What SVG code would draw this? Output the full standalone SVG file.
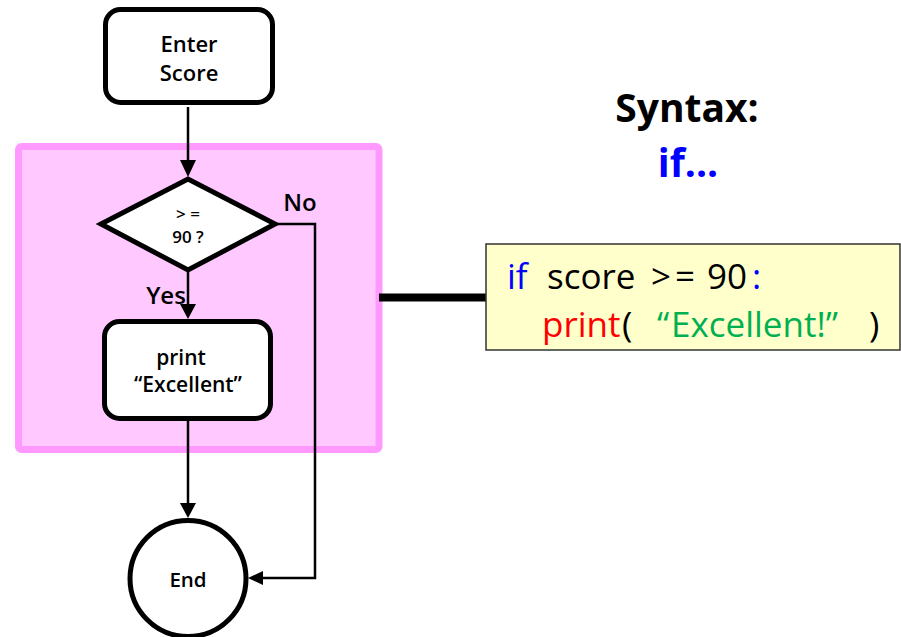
<svg xmlns="http://www.w3.org/2000/svg" width="901" height="637" viewBox="0 0 901 637">
  <defs>
    <style>
      .node { fill: #FFFFFF; stroke: #000000; stroke-width: 5; }
      .lbl { font-family: "Open Sans", "Noto Sans", "DejaVu Sans", sans-serif; fill: #000000; text-anchor: middle; font-weight: 600; }
      .wire { fill: none; stroke: #000000; stroke-width: 2.5; }
      .code { font-family: "Open Sans", "Noto Sans", "DejaVu Sans", sans-serif; font-size: 35px; }
      .head { font-family: "Open Sans", "Noto Sans", "DejaVu Sans", sans-serif; font-weight: 700; font-size: 39px; text-anchor: middle; }
    </style>
  </defs>

  <!-- highlighted if-block region -->
  <g id="if-region">
    <rect x="18.5" y="146.5" width="360.5" height="303" rx="3" fill="#FFC8FF" stroke="#FF99FF" stroke-width="7"/>
  </g>

  <!-- connectors -->
  <g id="connectors">
    <line class="wire" x1="188" y1="107" x2="188" y2="162"/>
    <polygon points="180,160 196,160 188,177"/>
    <line class="wire" x1="188" y1="272" x2="188" y2="306"/>
    <polygon points="180,304 196,304 188,319"/>
    <line class="wire" x1="188" y1="421" x2="188" y2="505"/>
    <polygon points="180,503 196,503 188,518"/>
    <polyline class="wire" points="277,224 315,224 315,578 260,578"/>
    <polygon points="263,571 263,585 248,578"/>
    <line x1="379" y1="297.5" x2="486" y2="297.5" stroke="#000000" stroke-width="8"/>
  </g>

  <g id="node-enter">
    <rect class="node" x="105.5" y="9.5" width="167" height="93" rx="15"/>
    <text class="lbl" font-size="22" x="189" y="52">Enter</text>
    <text class="lbl" font-size="22" x="189" y="81">Score</text>
  </g>

  <g id="node-decision">
    <polygon class="node" points="101,224 188,179 275,224 188,270"/>
    <text class="lbl" font-size="17" font-weight="400" x="188" y="220">&gt; =</text>
    <text class="lbl" font-size="17" font-weight="400" x="188" y="243">90 ?</text>
  </g>

  <g id="label-no">
    <text class="lbl" font-size="24" x="300" y="211">No</text>
  </g>
  <g id="label-yes">
    <text class="lbl" font-size="24" x="166" y="304">Yes</text>
  </g>

  <g id="node-print">
    <rect class="node" x="104.5" y="321.5" width="166" height="97" rx="15"/>
    <text class="lbl" font-size="21" x="181" y="365">print</text>
    <text class="lbl" font-size="21" x="188" y="392">“Excellent”</text>
  </g>

  <g id="node-end">
    <circle class="node" cx="188" cy="578.5" r="58"/>
    <text class="lbl" font-size="20.5" x="188" y="587">End</text>
  </g>

  <!-- title -->
  <g id="title">
    <text class="head" x="687" y="122" fill="#000000">Syntax:</text>
    <text class="head" x="688" y="177" fill="#0000FF">if...</text>
  </g>

  <!-- code sample -->
  <g id="code-box">
    <rect x="486" y="244" width="414" height="106" fill="#FFFFCC" stroke="#333333" stroke-width="1.5"/>
    <text class="code" y="289">
      <tspan x="507" fill="#0000FF">if</tspan>
      <tspan x="547" fill="#000000">score</tspan>
      <tspan x="651" fill="#000000">&gt;</tspan>
      <tspan x="675" fill="#000000">=</tspan>
      <tspan x="707" fill="#000000">90</tspan>
      <tspan x="752" fill="#0000FF">:</tspan>
    </text>
    <text class="code" y="337">
      <tspan x="542" fill="#FF0000">print</tspan>
      <tspan x="622" fill="#000000">(</tspan>
      <tspan x="657" fill="#00B050">“</tspan>
      <tspan x="671" fill="#00B050">Excellent!”</tspan>
      <tspan x="869" fill="#000000">)</tspan>
    </text>
  </g>
</svg>
